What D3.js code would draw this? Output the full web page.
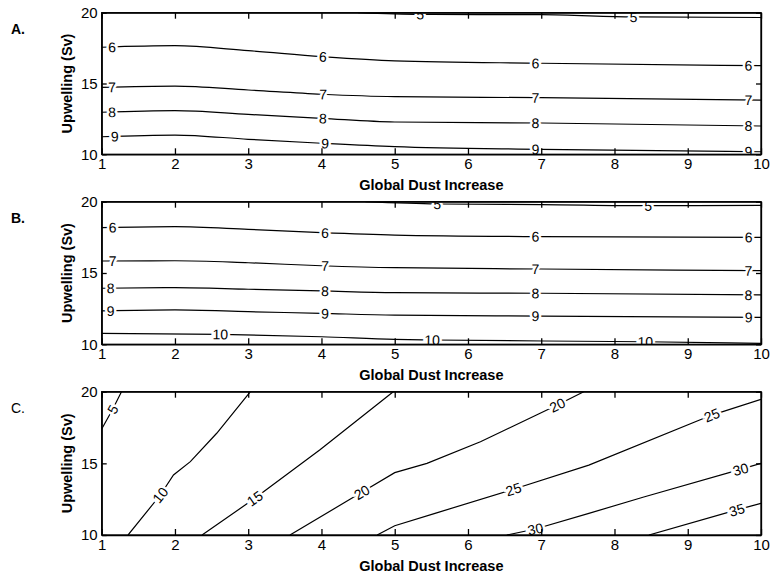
<!DOCTYPE html>
<html>
<head>
<meta charset="utf-8">
<script src="https://cdn.jsdelivr.net/npm/d3@7"></script>
<style>
  body { margin: 0; background: #fff; }
  text { font-family: "Liberation Sans", Arial, Helvetica, sans-serif; }
</style>
</head>
<body>
<svg id="chart" width="771" height="577"></svg>
<script>
// axis values
var dustTicks = [1, 2, 3, 4, 5, 6, 7, 8, 9, 10];
var upwellingTicks = [10, 15, 20];
var panelNames = ["A.", "B.", "C."];

// contour lines: [dust increase, upwelling Sv]
var contoursA = [
  { level: 5, pts: [[4.5, 20], [5.35, 19.88], [7, 19.86], [8.26, 19.7], [10, 19.66]] },
  { level: 6, pts: [[1, 17.56], [2, 17.67], [3, 17.32], [4, 16.9], [5, 16.6], [7, 16.43], [10, 16.26]] },
  { level: 7, pts: [[1, 14.73], [2, 14.82], [3, 14.54], [4, 14.24], [5, 14.07], [7, 14.0], [10, 13.83]] },
  { level: 8, pts: [[1, 12.97], [2, 13.08], [3, 12.82], [4, 12.54], [5, 12.28], [7, 12.21], [10, 12.0]] },
  { level: 9, pts: [[1, 11.24], [2, 11.36], [3, 11.06], [4, 10.78], [5, 10.54], [7, 10.35], [10, 10.18]] }
];
var labelAtA = [[5.35, 8.26], [1.14, 4.02, 6.92, 9.83], [1.14, 4.02, 6.92, 9.83], [1.14, 4.02, 6.92, 9.83], [1.18, 4.05, 6.92, 9.83]];

var contoursB = [
  { level: 5, pts: [[4.6, 20], [5.58, 19.84], [7, 19.8], [8.46, 19.72], [10, 19.74]] },
  { level: 6, pts: [[1, 18.18], [2, 18.25], [3, 18.06], [4, 17.83], [5, 17.66], [7, 17.55], [10, 17.5]] },
  { level: 7, pts: [[1, 15.84], [2, 15.86], [3, 15.72], [4, 15.51], [5, 15.37], [7, 15.28], [10, 15.16]] },
  { level: 8, pts: [[1, 13.93], [2, 13.97], [3, 13.86], [4, 13.74], [5, 13.62], [7, 13.58], [10, 13.46]] },
  { level: 9, pts: [[1, 12.34], [2, 12.41], [3, 12.29], [4, 12.17], [5, 12.05], [7, 11.98], [10, 11.89]] },
  { level: 10, pts: [[1, 10.77], [2.62, 10.7], [4, 10.53], [5, 10.35], [5.51, 10.3], [8.42, 10.18], [10, 10.07]] }
];
var labelAtB = [[5.58, 8.46], [1.15, 4.05, 6.92, 9.83], [1.15, 4.05, 6.92, 9.83], [1.12, 4.05, 6.92, 9.83], [1.12, 4.05, 6.92, 9.83], [2.62, 5.51, 8.42]];

var contoursC = [
  { level: 5, pts: [[1, 17.4], [1.15, 18.77], [1.27, 20]] },
  { level: 10, pts: [[1.36, 10], [1.8, 12.79], [1.98, 14.19], [2.21, 15.12], [2.57, 17.1], [3.03, 20]] },
  { level: 15, pts: [[2.37, 10], [3.09, 12.56], [3.98, 15.95], [4.98, 20]] },
  { level: 20, pts: [[3.57, 10], [4.55, 12.98], [5.0, 14.35], [5.44, 15.0], [6.17, 16.51], [7.22, 19.07], [7.58, 20]] },
  { level: 25, pts: [[4.76, 10], [5.0, 10.65], [5.55, 11.51], [6.62, 13.19], [7.65, 14.88], [9.33, 18.37], [10, 19.47]] },
  { level: 30, pts: [[6.53, 10], [6.92, 10.42], [7.65, 11.51], [8.4, 12.65], [9.72, 14.58], [10, 15.0]] },
  { level: 35, pts: [[8.47, 10], [9.67, 11.75], [10, 12.21]] }
];
var labelAtC = [[1.15], [1.8], [3.09], [4.55, 7.22], [6.62, 9.33], [6.92, 9.72], [9.67]];

var panels = [
  { top: 12.7, bottom: 154.3, contours: contoursA, labelAt: labelAtA },
  { top: 201.7, bottom: 344.3, contours: contoursB, labelAt: labelAtB },
  { top: 391.7, bottom: 535, contours: contoursC, labelAt: labelAtC }
];

var svg = d3.select("#chart");
var left = 101.7, right = 761;

var x = d3.scaleLinear().domain([1, 10]).range([left, right]);

panels.forEach(function(p, i) {
  var y = d3.scaleLinear().domain([10, 20]).range([p.bottom, p.top]);
  var g = svg.append("g");

  g.append("clipPath").attr("id", "clip" + i)
    .append("rect")
    .attr("x", left).attr("y", p.top)
    .attr("width", right - left).attr("height", p.bottom - p.top);

  var plot = g.append("g").attr("clip-path", "url(#clip" + i + ")");

  var line = d3.line()
    .x(function(d) { return x(d[0]); })
    .y(function(d) { return y(d[1]); })
    .curve(i === 2 ? d3.curveLinear : d3.curveMonotoneX);

  // contours
  p.contours.forEach(function(c, k) {
    plot.append("path")
      .attr("d", line(c.pts))
      .attr("fill", "none")
      .attr("stroke", "#000")
      .attr("stroke-width", 1.2);

    // labels along the line
    var px = c.pts.map(function(d) { return [x(d[0]), y(d[1])]; });
    p.labelAt[k].forEach(function(lx) {
      var X = x(lx);
      var j = 0;
      while (j < px.length - 2 && px[j + 1][0] < X) j++;
      var a = px[j], b = px[j + 1];
      var t = (X - a[0]) / (b[0] - a[0]);
      var Y = a[1] + t * (b[1] - a[1]);
      var ang = Math.atan2(b[1] - a[1], b[0] - a[0]) * 180 / Math.PI;
      plot.append("text")
        .attr("transform", "translate(" + X + "," + Y + ") rotate(" + ang + ")")
        .attr("text-anchor", "middle")
        .attr("dy", "0.36em")
        .attr("font-size", 14)
        .attr("stroke", "#fff")
        .attr("stroke-width", 5)
        .attr("paint-order", "stroke")
        .attr("fill", "#000")
        .text(c.level);
    });
  });

  // axes with inward ticks on all sides
  var xb = g.append("g").attr("transform", "translate(0," + p.bottom + ")")
    .call(d3.axisBottom(x).tickValues(dustTicks).tickSize(-6).tickSizeOuter(0).tickPadding(4));
  var xt = g.append("g").attr("transform", "translate(0," + p.top + ")")
    .call(d3.axisTop(x).tickValues(dustTicks).tickSize(-6).tickSizeOuter(0).tickFormat(""));
  var yl = g.append("g").attr("transform", "translate(" + left + ",0)")
    .call(d3.axisLeft(y).tickValues(upwellingTicks).tickSize(-5).tickSizeOuter(0).tickPadding(4));
  var yr = g.append("g").attr("transform", "translate(" + right + ",0)")
    .call(d3.axisRight(y).tickValues(upwellingTicks).tickSize(-5).tickSizeOuter(0).tickFormat(""));

  [xb, xt, yl, yr].forEach(function(a) {
    a.attr("font-family", null).attr("font-size", null);
    a.selectAll("path,line").attr("stroke", "#000").attr("stroke-width", 1.3);
    a.selectAll("text").attr("font-size", 15).attr("fill", "#000");
  });

  g.append("rect")
    .attr("x", left).attr("y", p.top)
    .attr("width", right - left).attr("height", p.bottom - p.top)
    .attr("fill", "none").attr("stroke", "#000").attr("stroke-width", 1.3);

  // titles
  g.append("text")
    .attr("x", (left + right) / 2).attr("y", p.bottom + 31)
    .attr("dy", "0.35em")
    .attr("text-anchor", "middle")
    .attr("font-size", 14.5).attr("font-weight", "bold")
    .text("Global Dust Increase");

  g.append("text")
    .attr("transform", "translate(67," + (p.top + p.bottom) / 2 + ") rotate(-90)")
    .attr("dy", "0.35em")
    .attr("text-anchor", "middle")
    .attr("font-size", 14.5).attr("font-weight", "bold")
    .text("Upwelling (Sv)");

  g.append("text")
    .attr("x", 11).attr("y", p.top + 16)
    .attr("dy", "0.35em")
    .attr("font-size", 14).attr("font-weight", i === 2 ? "normal" : "bold")
    .text(panelNames[i]);
});
</script>
</body>
</html>
